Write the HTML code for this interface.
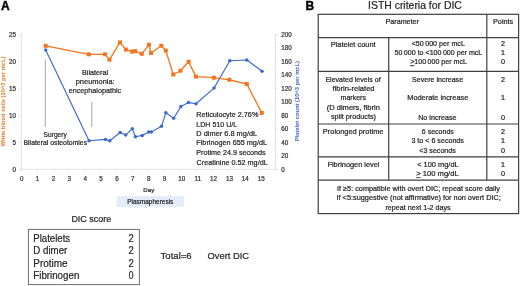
<!DOCTYPE html>
<html><head><meta charset="utf-8"><style>
html,body{margin:0;padding:0;background:#fff;width:520px;height:286px;overflow:hidden}
svg{display:block;will-change:transform}
text{font-family:"Liberation Sans",sans-serif;fill:#262626;stroke:#262626;stroke-width:0.22px}
.ax{font-size:6.3px;fill:#333333;stroke:#333333}
.t72{font-size:7.2px}
.t9{font-size:9.8px}
.lbl{font-size:12px;font-weight:bold;fill:#000;stroke:#000;stroke-width:0.4px}
.ytl{font-size:5.78px;font-weight:bold;fill:#F5741E;stroke:none}
.ytr{font-size:5.78px;font-weight:bold;fill:#3B6BCB;stroke:none}
</style></head><body>
<svg width="520" height="286" viewBox="0 0 520 286">
<line x1="21.3" y1="34" x2="21.3" y2="169.3" stroke="#d9d9d9" stroke-width="0.8"/>
<line x1="275.35" y1="34" x2="275.35" y2="169.3" stroke="#d9d9d9" stroke-width="0.8"/>
<line x1="21.3" y1="169.3" x2="275.35" y2="169.3" stroke="#d9d9d9" stroke-width="0.8"/>
<line x1="19" y1="169.30" x2="21.3" y2="169.30" stroke="#d9d9d9" stroke-width="0.8"/>
<text x="16" y="171.50" text-anchor="end" class="ax">0</text>
<line x1="19" y1="142.30" x2="21.3" y2="142.30" stroke="#d9d9d9" stroke-width="0.8"/>
<text x="16" y="144.50" text-anchor="end" class="ax">5</text>
<line x1="19" y1="115.30" x2="21.3" y2="115.30" stroke="#d9d9d9" stroke-width="0.8"/>
<text x="16" y="117.50" text-anchor="end" class="ax">10</text>
<line x1="19" y1="88.30" x2="21.3" y2="88.30" stroke="#d9d9d9" stroke-width="0.8"/>
<text x="16" y="90.50" text-anchor="end" class="ax">15</text>
<line x1="19" y1="61.30" x2="21.3" y2="61.30" stroke="#d9d9d9" stroke-width="0.8"/>
<text x="16" y="63.50" text-anchor="end" class="ax">20</text>
<line x1="19" y1="34.30" x2="21.3" y2="34.30" stroke="#d9d9d9" stroke-width="0.8"/>
<text x="16" y="36.50" text-anchor="end" class="ax">25</text>
<line x1="275.35" y1="169.30" x2="277.7" y2="169.30" stroke="#d9d9d9" stroke-width="0.8"/>
<text x="281.3" y="171.50" class="ax">0</text>
<line x1="275.35" y1="155.80" x2="277.7" y2="155.80" stroke="#d9d9d9" stroke-width="0.8"/>
<text x="281.3" y="158.00" class="ax">20</text>
<line x1="275.35" y1="142.30" x2="277.7" y2="142.30" stroke="#d9d9d9" stroke-width="0.8"/>
<text x="281.3" y="144.50" class="ax">40</text>
<line x1="275.35" y1="128.80" x2="277.7" y2="128.80" stroke="#d9d9d9" stroke-width="0.8"/>
<text x="281.3" y="131.00" class="ax">60</text>
<line x1="275.35" y1="115.30" x2="277.7" y2="115.30" stroke="#d9d9d9" stroke-width="0.8"/>
<text x="281.3" y="117.50" class="ax">80</text>
<line x1="275.35" y1="101.80" x2="277.7" y2="101.80" stroke="#d9d9d9" stroke-width="0.8"/>
<text x="281.3" y="104.00" class="ax">100</text>
<line x1="275.35" y1="88.30" x2="277.7" y2="88.30" stroke="#d9d9d9" stroke-width="0.8"/>
<text x="281.3" y="90.50" class="ax">120</text>
<line x1="275.35" y1="74.80" x2="277.7" y2="74.80" stroke="#d9d9d9" stroke-width="0.8"/>
<text x="281.3" y="77.00" class="ax">140</text>
<line x1="275.35" y1="61.30" x2="277.7" y2="61.30" stroke="#d9d9d9" stroke-width="0.8"/>
<text x="281.3" y="63.50" class="ax">160</text>
<line x1="275.35" y1="47.80" x2="277.7" y2="47.80" stroke="#d9d9d9" stroke-width="0.8"/>
<text x="281.3" y="50.00" class="ax">180</text>
<line x1="275.35" y1="34.30" x2="277.7" y2="34.30" stroke="#d9d9d9" stroke-width="0.8"/>
<text x="281.3" y="36.50" class="ax">200</text>
<line x1="21.35" y1="169.3" x2="21.35" y2="171.5" stroke="#d9d9d9" stroke-width="0.8"/>
<text x="21.75" y="180.8" text-anchor="middle" class="ax">0</text>
<line x1="37.23" y1="169.3" x2="37.23" y2="171.5" stroke="#d9d9d9" stroke-width="0.8"/>
<text x="37.62" y="180.8" text-anchor="middle" class="ax">1</text>
<line x1="53.10" y1="169.3" x2="53.10" y2="171.5" stroke="#d9d9d9" stroke-width="0.8"/>
<text x="53.50" y="180.8" text-anchor="middle" class="ax">2</text>
<line x1="68.97" y1="169.3" x2="68.97" y2="171.5" stroke="#d9d9d9" stroke-width="0.8"/>
<text x="69.38" y="180.8" text-anchor="middle" class="ax">3</text>
<line x1="84.85" y1="169.3" x2="84.85" y2="171.5" stroke="#d9d9d9" stroke-width="0.8"/>
<text x="85.25" y="180.8" text-anchor="middle" class="ax">4</text>
<line x1="100.72" y1="169.3" x2="100.72" y2="171.5" stroke="#d9d9d9" stroke-width="0.8"/>
<text x="101.12" y="180.8" text-anchor="middle" class="ax">5</text>
<line x1="116.60" y1="169.3" x2="116.60" y2="171.5" stroke="#d9d9d9" stroke-width="0.8"/>
<text x="117.00" y="180.8" text-anchor="middle" class="ax">6</text>
<line x1="132.47" y1="169.3" x2="132.47" y2="171.5" stroke="#d9d9d9" stroke-width="0.8"/>
<text x="132.88" y="180.8" text-anchor="middle" class="ax">7</text>
<line x1="148.35" y1="169.3" x2="148.35" y2="171.5" stroke="#d9d9d9" stroke-width="0.8"/>
<text x="148.75" y="180.8" text-anchor="middle" class="ax">8</text>
<line x1="164.22" y1="169.3" x2="164.22" y2="171.5" stroke="#d9d9d9" stroke-width="0.8"/>
<text x="164.62" y="180.8" text-anchor="middle" class="ax">9</text>
<line x1="180.10" y1="169.3" x2="180.10" y2="171.5" stroke="#d9d9d9" stroke-width="0.8"/>
<text x="181.80" y="180.8" text-anchor="middle" class="ax">10</text>
<line x1="195.97" y1="169.3" x2="195.97" y2="171.5" stroke="#d9d9d9" stroke-width="0.8"/>
<text x="197.67" y="180.8" text-anchor="middle" class="ax">11</text>
<line x1="211.85" y1="169.3" x2="211.85" y2="171.5" stroke="#d9d9d9" stroke-width="0.8"/>
<text x="213.55" y="180.8" text-anchor="middle" class="ax">12</text>
<line x1="227.72" y1="169.3" x2="227.72" y2="171.5" stroke="#d9d9d9" stroke-width="0.8"/>
<text x="229.42" y="180.8" text-anchor="middle" class="ax">13</text>
<line x1="243.60" y1="169.3" x2="243.60" y2="171.5" stroke="#d9d9d9" stroke-width="0.8"/>
<text x="245.30" y="180.8" text-anchor="middle" class="ax">14</text>
<line x1="259.48" y1="169.3" x2="259.48" y2="171.5" stroke="#d9d9d9" stroke-width="0.8"/>
<text x="261.18" y="180.8" text-anchor="middle" class="ax">15</text>
<line x1="275.35" y1="169.3" x2="275.35" y2="171.5" stroke="#d9d9d9" stroke-width="0.8"/>
<line x1="45.3" y1="59.5" x2="45.3" y2="127" stroke="#a6a6a6" stroke-width="1"/>
<line x1="91.8" y1="102" x2="91.8" y2="127" stroke="#a6a6a6" stroke-width="1"/>
<polyline points="45.7,50 89,140.8 105.5,139.4 109.8,140.8 120.2,132.5 125.7,135.1 132.3,128.7 135.4,136.8 142.3,135.4 148.7,132 151.3,132 161.5,126.3 165.8,112.8 173.7,118.2 180.9,106.4 188.5,102.6 196,103.7 214,88.1 229.8,60.7 246.8,60 262,71.2" fill="none" stroke="#3B6BCB" stroke-width="1.15" stroke-linejoin="round"/>
<polyline points="45.7,45.8 88.8,54.3 105.1,54.3 109.5,59.7 120,42.4 125.9,49.6 132.2,51.6 135.1,51.1 141.8,53.8 148.9,44.8 151,53 161.3,45.8 165.8,50.6 173.3,74.5 180.5,70.7 188.6,61.8 196,76.6 213.9,77.7 229.4,79.8 246.8,84 261.8,112.9" fill="none" stroke="#F5741E" stroke-width="1.3" stroke-linejoin="round"/>
<circle cx="45.7" cy="50" r="1.75" fill="#3B6BCB"/>
<circle cx="89" cy="140.8" r="1.75" fill="#3B6BCB"/>
<circle cx="105.5" cy="139.4" r="1.75" fill="#3B6BCB"/>
<circle cx="109.8" cy="140.8" r="1.75" fill="#3B6BCB"/>
<circle cx="120.2" cy="132.5" r="1.75" fill="#3B6BCB"/>
<circle cx="125.7" cy="135.1" r="1.75" fill="#3B6BCB"/>
<circle cx="132.3" cy="128.7" r="1.75" fill="#3B6BCB"/>
<circle cx="135.4" cy="136.8" r="1.75" fill="#3B6BCB"/>
<circle cx="142.3" cy="135.4" r="1.75" fill="#3B6BCB"/>
<circle cx="148.7" cy="132" r="1.75" fill="#3B6BCB"/>
<circle cx="151.3" cy="132" r="1.75" fill="#3B6BCB"/>
<circle cx="161.5" cy="126.3" r="1.75" fill="#3B6BCB"/>
<circle cx="165.8" cy="112.8" r="1.75" fill="#3B6BCB"/>
<circle cx="173.7" cy="118.2" r="1.75" fill="#3B6BCB"/>
<circle cx="180.9" cy="106.4" r="1.75" fill="#3B6BCB"/>
<circle cx="188.5" cy="102.6" r="1.75" fill="#3B6BCB"/>
<circle cx="196" cy="103.7" r="1.75" fill="#3B6BCB"/>
<circle cx="214" cy="88.1" r="1.75" fill="#3B6BCB"/>
<circle cx="229.8" cy="60.7" r="1.75" fill="#3B6BCB"/>
<circle cx="246.8" cy="60" r="1.75" fill="#3B6BCB"/>
<circle cx="262" cy="71.2" r="1.75" fill="#3B6BCB"/>
<rect x="43.70" y="43.80" width="4" height="4" fill="#F5741E"/>
<rect x="86.80" y="52.30" width="4" height="4" fill="#F5741E"/>
<rect x="103.10" y="52.30" width="4" height="4" fill="#F5741E"/>
<rect x="107.50" y="57.70" width="4" height="4" fill="#F5741E"/>
<rect x="118.00" y="40.40" width="4" height="4" fill="#F5741E"/>
<rect x="123.90" y="47.60" width="4" height="4" fill="#F5741E"/>
<rect x="130.20" y="49.60" width="4" height="4" fill="#F5741E"/>
<rect x="133.10" y="49.10" width="4" height="4" fill="#F5741E"/>
<rect x="139.80" y="51.80" width="4" height="4" fill="#F5741E"/>
<rect x="146.90" y="42.80" width="4" height="4" fill="#F5741E"/>
<rect x="149.00" y="51.00" width="4" height="4" fill="#F5741E"/>
<rect x="159.30" y="43.80" width="4" height="4" fill="#F5741E"/>
<rect x="163.80" y="48.60" width="4" height="4" fill="#F5741E"/>
<rect x="171.30" y="72.50" width="4" height="4" fill="#F5741E"/>
<rect x="178.50" y="68.70" width="4" height="4" fill="#F5741E"/>
<rect x="186.60" y="59.80" width="4" height="4" fill="#F5741E"/>
<rect x="194.00" y="74.60" width="4" height="4" fill="#F5741E"/>
<rect x="211.90" y="75.70" width="4" height="4" fill="#F5741E"/>
<rect x="227.40" y="77.80" width="4" height="4" fill="#F5741E"/>
<rect x="244.80" y="82.00" width="4" height="4" fill="#F5741E"/>
<rect x="259.80" y="110.90" width="4" height="4" fill="#F5741E"/>
<text transform="translate(5.2,101.5) rotate(-90)" text-anchor="middle" class="ytl">White blood cells (10^3 per mcL)</text>
<text transform="translate(299.1,101.2) rotate(-90)" text-anchor="middle" class="ytr">Platelet count (10^3 per mcL)</text>
<rect x="116.6" y="196.1" width="67.6" height="10.7" fill="#E3EDFA"/>
<text x="1" y="9.8" class="lbl">A</text>
<text x="305.4" y="9.8" class="lbl">B</text>
<rect x="28.4" y="229.4" width="111" height="55.2" fill="none" stroke="#6e6e6e" stroke-width="1"/>
<rect x="318.2" y="14.3" width="200.40000000000003" height="199.29999999999998" fill="none" stroke="#404040" stroke-width="1.2"/>
<line x1="318.2" y1="37.6" x2="518.6" y2="37.6" stroke="#404040" stroke-width="1.2"/>
<line x1="318.2" y1="71.4" x2="518.6" y2="71.4" stroke="#404040" stroke-width="1.2"/>
<line x1="318.2" y1="124" x2="518.6" y2="124" stroke="#404040" stroke-width="1.2"/>
<line x1="318.2" y1="156.9" x2="518.6" y2="156.9" stroke="#404040" stroke-width="1.2"/>
<line x1="318.2" y1="180.1" x2="518.6" y2="180.1" stroke="#404040" stroke-width="1.2"/>
<line x1="388.7" y1="37.6" x2="388.7" y2="180.1" stroke="#404040" stroke-width="1.2"/>
<line x1="486.8" y1="14.3" x2="486.8" y2="180.1" stroke="#404040" stroke-width="1.2"/>
<text x="503.00" y="45.90" text-anchor="middle" class="t72">2</text>
<text x="503.00" y="55.00" text-anchor="middle" class="t72">1</text>
<text x="503.00" y="64.30" text-anchor="middle" class="t72">0</text>
<text x="503.00" y="81.50" text-anchor="middle" class="t72">2</text>
<text x="503.00" y="100.20" text-anchor="middle" class="t72">1</text>
<text x="503.00" y="119.60" text-anchor="middle" class="t72">0</text>
<text x="503.00" y="133.60" text-anchor="middle" class="t72">2</text>
<text x="503.00" y="142.60" text-anchor="middle" class="t72">1</text>
<text x="503.00" y="152.50" text-anchor="middle" class="t72">0</text>
<text x="503.00" y="166.50" text-anchor="middle" class="t72">1</text>
<text x="503.00" y="176.10" text-anchor="middle" class="t72">0</text>
<text x="43.57" y="136.50" font-size="7.3" textLength="23.28" lengthAdjust="spacingAndGlyphs">Surgery</text>
<text x="23.53" y="145.30" font-size="7.3" textLength="63.59" lengthAdjust="spacingAndGlyphs">Bilateral osteotomies</text>
<text x="82.02" y="74.50" font-size="7.6" textLength="26.09" lengthAdjust="spacingAndGlyphs">Bilateral</text>
<text x="75.71" y="83.80" font-size="7.6" textLength="38.97" lengthAdjust="spacingAndGlyphs">pneumonia:</text>
<text x="68.76" y="93.10" font-size="7.6" textLength="52.40" lengthAdjust="spacingAndGlyphs">encephalopathic</text>
<text x="196.32" y="117.30" font-size="7.6" textLength="62.03" lengthAdjust="spacingAndGlyphs">Reticulocyte 2.76%</text>
<text x="196.33" y="126.60" font-size="7.6" textLength="40.91" lengthAdjust="spacingAndGlyphs">LDH 510 U/L</text>
<text x="196.31" y="135.90" font-size="7.6" textLength="60.90" lengthAdjust="spacingAndGlyphs">D dimer 6.8 mg/dL</text>
<text x="196.32" y="145.40" font-size="7.6" textLength="70.71" lengthAdjust="spacingAndGlyphs">Fibrinogen 655 mg/dL</text>
<text x="196.33" y="155.00" font-size="7.6" textLength="69.26" lengthAdjust="spacingAndGlyphs">Protime 24.9 seconds</text>
<text x="196.56" y="164.60" font-size="7.6" textLength="71.15" lengthAdjust="spacingAndGlyphs">Creatinine 0.52 mg/dL</text>
<text x="143.30" y="192.40" font-size="6.2" textLength="10.91" lengthAdjust="spacingAndGlyphs">Day</text>
<text x="127.21" y="204.00" font-size="6.6" textLength="46.16" lengthAdjust="spacingAndGlyphs">Plasmapheresis</text>
<text x="71.40" y="222.10" font-size="9.6" textLength="39.88" lengthAdjust="spacingAndGlyphs">DIC score</text>
<text x="33.29" y="241.50" font-size="10.2" textLength="36.82" lengthAdjust="spacingAndGlyphs">Platelets</text>
<text x="33.28" y="254.10" font-size="10.2" textLength="34.08" lengthAdjust="spacingAndGlyphs">D dimer</text>
<text x="33.27" y="266.70" font-size="10.2" textLength="34.28" lengthAdjust="spacingAndGlyphs">Protime</text>
<text x="33.28" y="279.30" font-size="10.2" textLength="46.03" lengthAdjust="spacingAndGlyphs">Fibrinogen</text>
<text x="128.54" y="241.50" font-size="10.2" textLength="5.25" lengthAdjust="spacingAndGlyphs">2</text>
<text x="128.54" y="254.10" font-size="10.2" textLength="5.25" lengthAdjust="spacingAndGlyphs">2</text>
<text x="128.54" y="266.70" font-size="10.2" textLength="5.25" lengthAdjust="spacingAndGlyphs">2</text>
<text x="128.79" y="279.30" font-size="10.2" textLength="4.75" lengthAdjust="spacingAndGlyphs">0</text>
<text x="160.60" y="259.00" font-size="9.8" textLength="31.07" lengthAdjust="spacingAndGlyphs">Total=6</text>
<text x="207.56" y="259.00" font-size="9.8" textLength="41.52" lengthAdjust="spacingAndGlyphs">Overt DIC</text>
<text x="368.05" y="8.60" font-size="10.4" textLength="93.83" lengthAdjust="spacingAndGlyphs">ISTH criteria for DIC</text>
<text x="385.50" y="23.80" font-size="7.2" textLength="33.46" lengthAdjust="spacingAndGlyphs">Parameter</text>
<text x="492.99" y="23.80" font-size="7.2" textLength="20.24" lengthAdjust="spacingAndGlyphs">Points</text>
<text x="330.68" y="47.40" font-size="7.2" textLength="44.98" lengthAdjust="spacingAndGlyphs">Platelet count</text>
<text x="411.65" y="45.90" font-size="7.2" textLength="53.24" lengthAdjust="spacingAndGlyphs">&lt;50&#8201;000 per mcL</text>
<text x="394.55" y="55.00" font-size="7.2" textLength="87.75" lengthAdjust="spacingAndGlyphs">50&#8201;000 to &lt;100&#8201;000 per mcL</text>
<text x="410.20" y="64.30" font-size="7.2" textLength="56.69" lengthAdjust="spacingAndGlyphs"><tspan text-decoration="underline">&gt;</tspan>100&#8201;000 per mcL</text>
<text x="325.41" y="81.60" font-size="7.2" textLength="55.24" lengthAdjust="spacingAndGlyphs">Elevated levels of</text>
<text x="332.60" y="91.00" font-size="7.2" textLength="41.98" lengthAdjust="spacingAndGlyphs">fibrin-related</text>
<text x="340.51" y="100.40" font-size="7.2" textLength="25.51" lengthAdjust="spacingAndGlyphs">markers</text>
<text x="326.74" y="109.90" font-size="7.2" textLength="53.11" lengthAdjust="spacingAndGlyphs">(D dimers, fibrin</text>
<text x="330.90" y="119.30" font-size="7.2" textLength="45.05" lengthAdjust="spacingAndGlyphs">split products)</text>
<text x="412.05" y="81.50" font-size="7.2" textLength="51.03" lengthAdjust="spacingAndGlyphs">Severe increase</text>
<text x="407.29" y="100.20" font-size="7.2" textLength="61.00" lengthAdjust="spacingAndGlyphs">Moderate increase</text>
<text x="418.20" y="119.60" font-size="7.2" textLength="38.31" lengthAdjust="spacingAndGlyphs">No increase</text>
<text x="322.88" y="133.70" font-size="7.2" textLength="60.56" lengthAdjust="spacingAndGlyphs">Prolonged protime</text>
<text x="421.86" y="133.60" font-size="7.2" textLength="31.96" lengthAdjust="spacingAndGlyphs">6 seconds</text>
<text x="411.45" y="142.60" font-size="7.2" textLength="52.45" lengthAdjust="spacingAndGlyphs">3 to &lt; 6 seconds</text>
<text x="419.25" y="152.50" font-size="7.2" textLength="36.56" lengthAdjust="spacingAndGlyphs">&lt;3 seconds</text>
<text x="327.49" y="166.70" font-size="7.2" textLength="52.03" lengthAdjust="spacingAndGlyphs">Fibrinogen level</text>
<text x="417.24" y="166.50" font-size="7.2" textLength="41.44" lengthAdjust="spacingAndGlyphs">&lt; 100 mg/dL</text>
<text x="416.20" y="176.10" font-size="7.2" textLength="42.48" lengthAdjust="spacingAndGlyphs"><tspan text-decoration="underline">&gt;</tspan> 100 mg/dL</text>
<text x="336.99" y="190.80" font-size="7.2" textLength="162.96" lengthAdjust="spacingAndGlyphs">If ≥5: compatible with overt DIC; repeat score daily</text>
<text x="336.49" y="200.10" font-size="7.2" textLength="164.38" lengthAdjust="spacingAndGlyphs">If &lt;5:suggestive (not affirmative) for non overt DIC;</text>
<text x="385.45" y="209.60" font-size="7.2" textLength="65.18" lengthAdjust="spacingAndGlyphs">repeat next 1-2 days</text>
</svg>
</body></html>
